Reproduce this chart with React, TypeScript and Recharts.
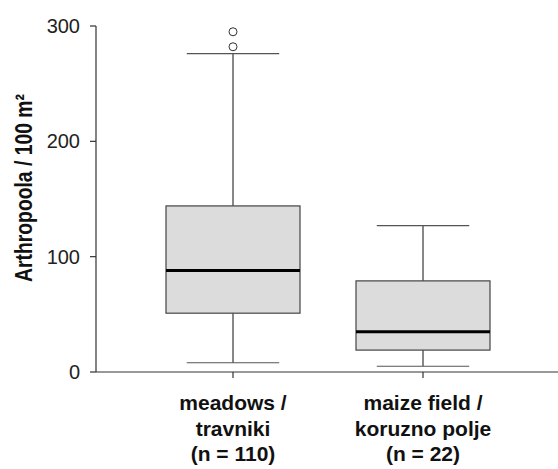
import React from 'react';
import { ComposedChart, Bar, Line, XAxis, YAxis } from 'recharts';

const categories = ['meadows', 'maize'];
const categoryLines = [
  ['meadows /', 'travniki', '(n = 110)'],
  ['maize field /', 'koruzno polje', '(n = 22)'],
];
const whiskerLow = [8, 5];
const q1 = [51, 19];
const median = [88, 35];
const q3 = [144, 79];
const whiskerHigh = [276, 127];
const outlierA = [282, null];
const outlierB = [295, null];
const yTicks = [0, 100, 200, 300];
const yLabel = 'Arthropoola / 100 m²';

const data = categories.map((c, i) => ({
  name: c,
  idx: i,
  range: [whiskerLow[i], whiskerHigh[i]],
  low: whiskerLow[i],
  high: whiskerHigh[i],
  q1: q1[i],
  med: median[i],
  q3: q3[i],
  outA: outlierA[i],
  outB: outlierB[i],
}));

const FONT = '"Liberation Sans", Arial, sans-serif';

const BoxShape = (props: any) => {
  const { x, y, width, height, payload } = props;
  const top = Math.min(y, y + height);
  const h = Math.abs(height);
  const { low, high } = payload;
  const k = h / (high - low);
  const py = (v: number) => top + (high - v) * k;
  const cx = x + width / 2;
  const capHalf = width * 0.345;
  return (
    <g>
      <line x1={cx} x2={cx} y1={py(high)} y2={py(payload.q3)} stroke="#111" strokeWidth={1} />
      <line x1={cx} x2={cx} y1={py(payload.q1)} y2={py(low)} stroke="#111" strokeWidth={1} />
      <line x1={cx - capHalf} x2={cx + capHalf} y1={py(high)} y2={py(high)} stroke="#555" strokeWidth={1.2} />
      <line x1={cx - capHalf} x2={cx + capHalf} y1={py(low)} y2={py(low)} stroke="#555" strokeWidth={1.2} />
      <rect
        x={x}
        y={py(payload.q3)}
        width={width}
        height={py(payload.q1) - py(payload.q3)}
        fill="#dcdcdc"
        stroke="#444"
        strokeWidth={1.2}
      />
      <line x1={x} x2={x + width} y1={py(payload.med)} y2={py(payload.med)} stroke="#000" strokeWidth={3} />
    </g>
  );
};

const XTick = (props: any) => {
  const { x, y, index } = props;
  const lines = categoryLines[index] || [];
  return (
    <text
      x={x}
      y={y}
      textAnchor="middle"
      fontFamily={FONT}
      fontWeight="bold"
      fontSize={21}
      fill="#111"
    >
      {lines.map((l, i) => (
        <tspan key={i} x={x} y={y + 30 + i * 25.5}>
          {l}
        </tspan>
      ))}
    </text>
  );
};

const YLabel = () => {
  const cy = 188;
  const cx = 23;
  return (
    <text
      x={cx}
      y={cy}
      transform={`rotate(-90, ${cx}, ${cy})`}
      textAnchor="middle"
      dominantBaseline="central"
      fontFamily={FONT}
      fontWeight="bold"
      fontSize={24}
      textLength={188}
      lengthAdjust="spacingAndGlyphs"
      fill="#111"
    >
      {yLabel}
    </text>
  );
};

export default function App() {
  return (
    <div style={{ position: 'absolute', left: 0, top: 0, width: 558, height: 469, background: '#fff' }}>
      <ComposedChart
        width={558}
        height={469}
        data={data}
        margin={{ top: 26, right: 0, bottom: 0, left: 0 }}
      >
        <XAxis
          dataKey="name"
          padding={{ left: 42, right: 40 }}
          height={97}
          tickSize={6}
          tickMargin={2}
          tick={<XTick />}
          axisLine={{ stroke: '#333', strokeWidth: 1.2 }}
          tickLine={{ stroke: '#333', strokeWidth: 1.2 }}
          interval={0}
        />
        <YAxis
          type="number"
          domain={[0, 300]}
          ticks={yTicks}
          width={96}
          tickSize={6}
          tickMargin={10}
          axisLine={{ stroke: '#333', strokeWidth: 1.2 }}
          tickLine={{ stroke: '#333', strokeWidth: 1.2 }}
          tick={{ fontFamily: FONT, fontSize: 20, fill: '#222' }}
          label={<YLabel />}
        />
        <Bar dataKey="range" barSize={134} shape={<BoxShape />} isAnimationActive={false} />
        <Line
          dataKey="outA"
          stroke="none"
          dot={{ r: 4, fill: '#fff', stroke: '#333', strokeWidth: 1 }}
          activeDot={false}
          isAnimationActive={false}
        />
        <Line
          dataKey="outB"
          stroke="none"
          dot={{ r: 4, fill: '#fff', stroke: '#333', strokeWidth: 1 }}
          activeDot={false}
          isAnimationActive={false}
        />
      </ComposedChart>
    </div>
  );
}
